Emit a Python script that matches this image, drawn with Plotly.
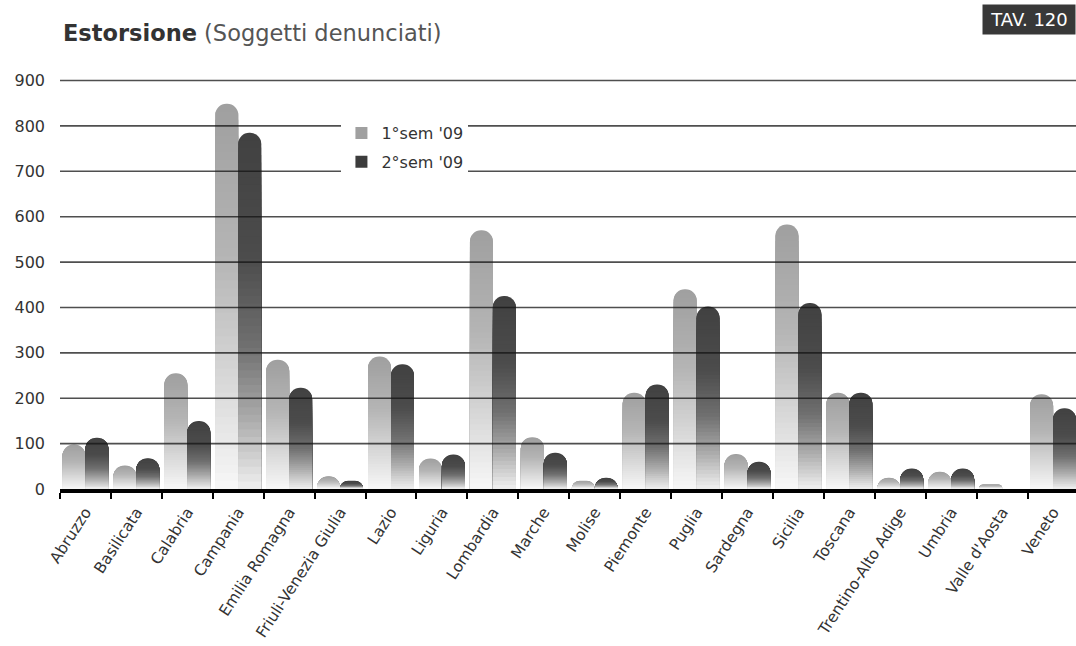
import plotly.graph_objects as go
from plotly.colors import sample_colorscale

# Regions and reported subjects per half-year
regioni = ["Abruzzo", "Basilicata", "Calabria", "Campania", "Emilia Romagna",
           "Friuli-Venezia Giulia", "Lazio", "Liguria", "Lombardia", "Marche",
           "Molise", "Piemonte", "Puglia", "Sardegna", "Sicilia", "Toscana",
           "Trentino-Alto Adige", "Umbria", "Valle d'Aosta", "Veneto"]
sem1_09 = [98, 52, 255, 849, 285, 28, 292, 67, 570, 114, 18, 212, 440, 77, 583, 212, 25, 38, 10, 209]
sem2_09 = [113, 68, 150, 785, 223, 18, 275, 76, 425, 80, 25, 230, 402, 60, 410, 212, 45, 45, 0, 178]

serie = [
    ("1°sem '09", sem1_09, -0.45, "#a0a0a0",
     [[0.0, "#f7f7f7"], [0.3, "#d6d6d6"], [0.6, "#b5b5b5"], [1.0, "#9f9f9f"]]),
    ("2°sem '09", sem2_09, 0.0, "#3c3c3c",
     [[0.0, "#f0f0f0"], [0.2, "#aaaaaa"], [0.4, "#707070"], [0.65, "#4c4c4c"], [1.0, "#414141"]]),
]

FONT = "DejaVu Sans, sans-serif"
N_BANDS = 48   # overlaid bars of decreasing height give a vertical fade
BAR_W = 0.45

fig = go.Figure()
for gi, (nome, valori, offset, col_leg, scala) in enumerate(serie):
    for k in range(N_BANDS):
        frac = (N_BANDS - k) / N_BANDS
        t = (N_BANDS - k - 0.5) / N_BANDS
        colore = sample_colorscale(scala, [t])[0]
        fig.add_trace(go.Bar(
            x=regioni,
            y=[v * frac for v in valori],
            name=nome,
            width=BAR_W,
            offset=offset,
            marker=dict(color=colore, line=dict(width=0), cornerradius="50%", opacity=1),
            showlegend=False,
            legendgroup=f"g{gi}",
            hoverinfo="skip" if k else "x+y",
        ))
    # square legend key for the series
    fig.add_trace(go.Bar(
        x=regioni[:1], y=[None], name=nome, width=BAR_W, offset=offset,
        marker=dict(color=col_leg, line=dict(width=0)),
        legendgroup=f"g{gi}", showlegend=True, hoverinfo="skip",
    ))

# horizontal reference lines drawn over the bars
for v in range(100, 1000, 100):
    fig.add_shape(type="line", xref="paper", x0=0, x1=1, yref="y", y0=v, y1=v,
                  line=dict(color="rgba(20,20,20,0.75)", width=1.6), layer="above")

fig.add_annotation(
    xref="paper", yref="paper", x=0.001, y=1.105, xanchor="left", yanchor="middle",
    text="<b>Estorsione</b> <span style='color:#555'>(Soggetti denunciati)</span>",
    showarrow=False, font=dict(family=FONT, size=22.5, color="#333"),
)
fig.add_annotation(
    xref="paper", yref="paper", x=1.0, y=1.138, xanchor="right", yanchor="middle",
    text="TAV. 120", showarrow=False, bgcolor="#383838", width=92, height=29,
    borderpad=0, font=dict(family=FONT, size=18, color="white"),
)

fig.update_layout(
    width=1076, height=646,
    margin=dict(l=60, r=0, t=76, b=157),
    paper_bgcolor="white", plot_bgcolor="white",
    barmode="overlay",
    font=dict(family=FONT, size=16, color="#333"),
    legend=dict(x=0.277, y=0.903, xanchor="left", yanchor="top",
                bgcolor="white", font=dict(family=FONT, size=16, color="#333"),
                tracegroupgap=5, itemclick=False),
    xaxis=dict(type="category", range=[-0.5, 19.45], showgrid=False,
               showline=True, linecolor="black", linewidth=4,
               ticks="outside", tickson="boundaries", ticklen=6, tickwidth=1.5,
               tickcolor="black", tickangle=-57, ticklabelstandoff=4,
               tickfont=dict(family=FONT, size=15.5, color="#333")),
    yaxis=dict(range=[0, 910], showgrid=False, zeroline=False, showline=False,
               tickvals=list(range(0, 1000, 100)), ticklabelstandoff=14,
               tickfont=dict(family=FONT, size=16, color="#333")),
)

fig.write_html("out.html")
